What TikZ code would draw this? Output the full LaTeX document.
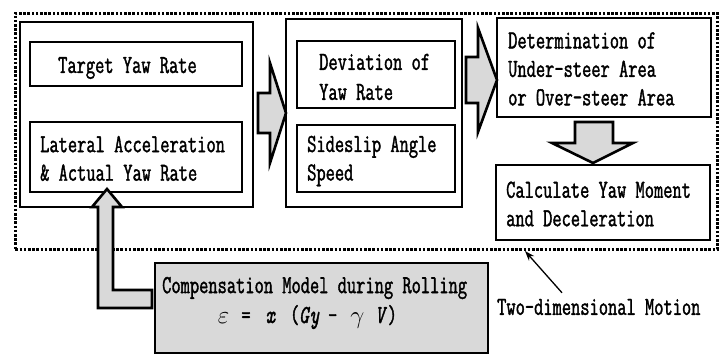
\documentclass[tikz,border=0pt]{standalone}
\usepackage{fontspec}
\newfontfamily\mono[FakeStretch=0.69,FakeBold=1.4]{Latin Modern Mono}
\usetikzlibrary{arrows.meta,calc}
\definecolor{fillgray}{HTML}{D9D9D9}
\begin{document}
\begin{tikzpicture}[x=1pt,y=-1pt,
  box/.style={draw=black,line width=2.8pt,anchor=north west,inner sep=0pt,outer sep=0pt},
  dotbox/.style={draw=black,line width=2.8pt,dash pattern=on 2.6pt off 1.6pt,anchor=north west,inner sep=0pt},
  txt/.style={font=\mono\fontsize{26}{28.5}\selectfont,align=left,inner sep=0pt,anchor=west},
  blk/.style={draw=black,fill=fillgray,line width=2.6pt,line join=miter},
  ptr/.style={draw=black,line width=1.3pt,-{Stealth[length=10pt,width=7pt]}}]
\useasboundingbox (0,0) rectangle (723,356);
% outer dotted frame
\node[dotbox,minimum width=702,minimum height=236] (O) at (14,12) {};
% boxes
\node[box,minimum width=233,minimum height=185] (L) at (20,22) {};
\node[box,minimum width=212,minimum height=44] (T) at (30,42) {};
\node[box,minimum width=212,minimum height=70] (A) at (30,122) {};
\node[box,minimum width=176,minimum height=188] (M) at (286,19) {};
\node[box,minimum width=158,minimum height=67] (D) at (297,41) {};
\node[box,minimum width=158,minimum height=67] (S) at (297,125) {};
\node[box,minimum width=214,minimum height=99] (R1) at (497,18) {};
\node[box,minimum width=214,minimum height=75] (R2) at (496,165) {};
% texts
\node[txt] at ($(T.west)+(28,4)$) {Target Yaw Rate};
\node[txt] at ($(A.west)+(10,1.5)$) {Lateral Acceleration\\\& Actual Yaw Rate};
\node[txt,font=\mono\fontsize{26}{30}\selectfont] at ($(D.west)+(22,2.5)$) {Deviation of\\Yaw Rate};
\node[txt] at ($(S.west)+(10,2.5)$) {Sideslip Angle\\Speed};
\node[txt] at ($(R1.west)+(11,1.5)$) {Determination of\\Under-steer Area\\or Over-steer Area};
\node[txt] at ($(R2.west)+(10,1.5)$) {Calculate Yaw Moment\\and Deceleration};
% block arrows
\draw[blk] (258,93) -- (270,93) -- (270,63) -- (M.west |- 0,113) -- (270,163) -- (270,133) -- (258,133) -- cycle;
\draw[blk] (466,57) -- (478,57) -- (478,28) -- (R1.west |- 0,80) -- (478,132) -- (478,103) -- (466,103) -- cycle;
\draw[blk] (575,122) -- (613,122) -- (613,143) -- (633,143) -- (593,163) -- (552,143) -- (575,143) -- cycle;
% compensation box
\node[box,fill=fillgray,minimum width=333,minimum height=90] (C) at (155,263) {};
\node[txt] at ($(C.north west)+(7,25)$) {Compensation Model during Rolling};
\node[txt,anchor=center] at ($(C.north west)+(152.5,54)$) {$\varepsilon$\hspace{12pt}=\hspace{15pt}\itshape x\hspace{15pt}\upshape(\itshape G\hspace{1pt}y\hspace{9pt}\upshape-\hspace{13pt}$\gamma$\hspace{11pt}\itshape V\hspace{3pt}\upshape)};
% L-shaped arrow from compensation box up to lateral box
\draw[blk] (152,290) -- (113,290) -- (113,207) -- (122,207) -- (107,189) -- (92,207) -- (98,207) -- (98,308) -- (152,308) -- cycle;
% two-dimensional motion label and pointer
\node[txt] (tdm) at (497,307) {Two-dimensional Motion};
\coordinate (dtip) at (525,251);
\draw[ptr] ($(tdm.north west)+(65,-6)$) -- (dtip);
\end{tikzpicture}
\end{document}
